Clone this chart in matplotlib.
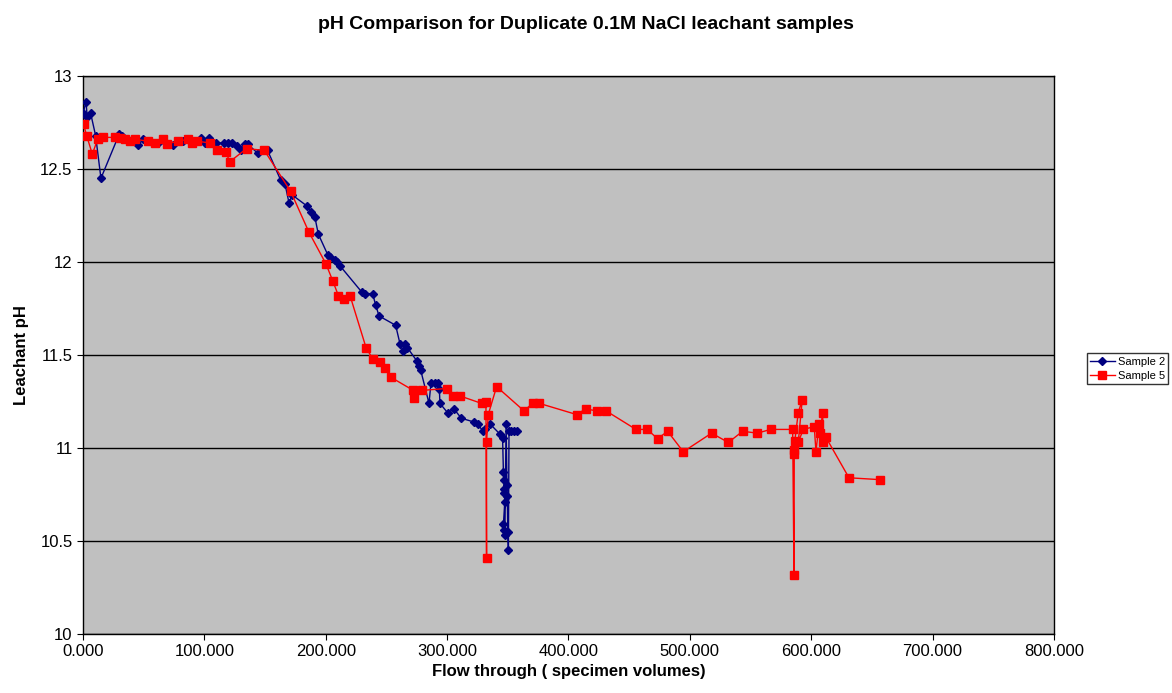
import matplotlib
matplotlib.use("Agg")
from matplotlib import pyplot as plt
from matplotlib.ticker import FuncFormatter, MultipleLocator

plt.rcParams['font.family'] = ['Liberation Sans', 'DejaVu Sans']

# Sample 2 readings: flow through (specimen volumes) vs leachant pH
s2_flow = [0.0, 2.5, 3.5, 6.3, 10.4, 14.8, 30.0, 32.4, 36.0, 45.6, 49.7, 62.0, 74.4,
           82.6, 97.2, 100.5, 104.1, 109.6, 116.4, 119.1, 122.4, 126.5, 129.8, 133.5,
           135.6, 143.9, 152.1, 162.9, 166.4, 169.7, 172.5, 184.8, 187.9, 191.1, 193.9,
           201.6, 203.5, 207.6, 209.5, 211.7, 229.5, 232.3, 238.6, 241.1, 243.9, 257.6,
           261.2, 263.9, 265.3, 267.2, 274.9, 276.8, 278.2, 285.1, 286.7, 290.0, 292.7,
           293.6, 294.1, 300.4, 305.7, 311.7, 322.1, 325.7, 329.2, 331.2, 335.3, 343.5,
           345.7, 346.4, 346.8, 347.0, 347.2, 347.5, 346.4, 346.8, 347.6, 348.6, 349.3,
           349.6, 350.0, 350.5, 351.0, 353.0, 355.0, 357.3]
s2_ph = [12.80, 12.86, 12.78, 12.80, 12.68, 12.45, 12.69, 12.68, 12.66, 12.63, 12.66,
         12.64, 12.63, 12.65, 12.665, 12.64, 12.665, 12.64, 12.64, 12.64, 12.64, 12.625,
         12.60, 12.635, 12.635, 12.585, 12.60, 12.44, 12.42, 12.32, 12.36, 12.30, 12.27,
         12.24, 12.15, 12.04, 12.025, 12.01, 12.00, 11.98, 11.84, 11.83, 11.83, 11.77,
         11.71, 11.66, 11.56, 11.52, 11.56, 11.54, 11.47, 11.44, 11.42, 11.24, 11.35,
         11.35, 11.35, 11.32, 11.24, 11.19, 11.21, 11.16, 11.14, 11.13, 11.09, 11.10,
         11.13, 11.075, 11.055, 10.87, 10.83, 10.78, 10.76, 10.71, 10.59, 10.56, 10.53,
         11.13, 10.80, 10.74, 10.55, 10.45, 11.09, 11.09, 11.09, 11.09]

# Sample 5 readings
s5_flow = [0.5, 3.0, 7.7, 12.1, 16.2, 26.4, 30.5, 34.6, 38.7, 42.8, 53.2, 59.3, 65.6,
           68.9, 78.5, 86.7, 89.5, 93.6, 104.6, 110.7, 117.5, 121.1, 134.8, 149.4,
           171.1, 186.2, 200.2, 205.7, 210.4, 215.0, 220.0, 233.2, 238.6, 244.7, 248.8,
           253.8, 272.1, 273.0, 279.6, 299.6, 304.6, 310.6, 328.4, 332.0, 332.5, 332.5,
           333.9, 340.8, 363.3, 370.5, 376.0, 406.7, 414.1, 423.2, 430.9, 455.6, 464.9,
           473.4, 481.7, 494.6, 517.9, 531.7, 543.5, 555.6, 566.6, 584.7, 585.8, 586.0,
           585.8, 586.5, 589.3, 592.6, 589.3, 593.4, 602.5, 603.9, 606.4, 607.2, 609.4,
           609.9, 611.9, 631.1, 656.6]
s5_ph = [12.74, 12.68, 12.58, 12.66, 12.67, 12.67, 12.665, 12.66, 12.65, 12.66, 12.65,
         12.64, 12.66, 12.635, 12.65, 12.66, 12.64, 12.65, 12.64, 12.60, 12.59, 12.54,
         12.61, 12.60, 12.38, 12.16, 11.99, 11.90, 11.82, 11.80, 11.82, 11.54, 11.48,
         11.46, 11.43, 11.38, 11.31, 11.27, 11.31, 11.32, 11.28, 11.28, 11.24, 11.25,
         10.41, 11.03, 11.18, 11.33, 11.20, 11.24, 11.24, 11.18, 11.21, 11.20, 11.20,
         11.10, 11.10, 11.05, 11.09, 10.98, 11.08, 11.03, 11.09, 11.08, 11.10, 11.10,
         10.32, 10.97, 10.99, 11.04, 11.19, 11.26, 11.03, 11.10, 11.115, 10.98, 11.13,
         11.08, 11.19, 11.03, 11.06, 10.84, 10.83]

fig = plt.figure(figsize=(11.72, 6.93), dpi=100)
ax = fig.add_axes([0.0708, 0.0851, 0.8285, 0.8052])
ax.set_facecolor('#C0C0C0')

ax.plot(s2_flow, s2_ph, color='#000080', lw=1, marker='D', ms=4,
        mec='#000080', mfc='#000080', label='Sample 2', zorder=3)
ax.plot(s5_flow, s5_ph, color='#FF0000', lw=1, marker='s', ms=5.5,
        mec='#FF0000', mfc='#FF0000', label='Sample 5', zorder=3)

ax.set_xlim(0, 800)
ax.set_ylim(10, 13)
ax.xaxis.set_major_locator(MultipleLocator(100))
ax.yaxis.set_major_locator(MultipleLocator(0.5))
ax.xaxis.set_major_formatter(FuncFormatter(lambda v, p: f'{v:.3f}'))
ax.yaxis.set_major_formatter(FuncFormatter(lambda v, p: f'{v:g}'))
ax.yaxis.grid(True, color='black', lw=1)
ax.set_axisbelow(True)
ax.tick_params(direction='out', length=4, labelsize=12, color='black')
for s in ax.spines.values():
    s.set_color('black')
    s.set_linewidth(1)

fig.suptitle('pH Comparison for Duplicate 0.1M NaCl leachant samples',
             x=0.5, y=0.964, va='center', fontsize=14, fontweight='bold')
ax.set_xlabel('Flow through ( specimen volumes)', fontsize=12, fontweight='bold',
              labelpad=3)
ax.set_ylabel('Leachant pH', fontsize=12, fontweight='bold', labelpad=8)

leg = fig.legend(loc='center right', bbox_to_anchor=(0.997, 0.468), fontsize=8,
                 frameon=True, fancybox=False, edgecolor='black', handlelength=2.2,
                 handletextpad=0.3, borderpad=0.3, labelspacing=0.35,
                 borderaxespad=0)
leg.get_frame().set_linewidth(1)

fig.savefig('out.png', dpi=100)
